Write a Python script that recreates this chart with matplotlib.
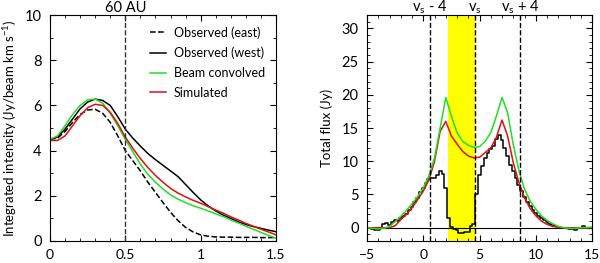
import numpy as np
import matplotlib
matplotlib.use('Agg')
import matplotlib.pyplot as plt
from matplotlib.ticker import MultipleLocator

# left panel: radial profiles of integrated intensity
radius = np.arange(0, 1.5001, 0.05)
obs_east = [4.5, 4.55, 4.85, 5.25, 5.6, 5.8, 5.83, 5.65, 5.25, 4.65, 4.0,
            3.55, 3.1, 2.6, 2.15, 1.7, 1.27, 0.9, 0.6, 0.4, 0.27,
            0.21, 0.18, 0.17, 0.17, 0.16, 0.16, 0.16, 0.15, 0.15, 0.15]
obs_west = [4.5, 4.6, 4.95, 5.4, 5.85, 6.15, 6.28, 6.22, 6.0, 5.5, 4.95,
            4.55, 4.2, 3.87, 3.6, 3.35, 3.1, 2.85, 2.5, 2.15, 1.82,
            1.55, 1.33, 1.15, 1.0, 0.85, 0.73, 0.64, 0.56, 0.48, 0.41]
beam_conv = [4.5, 4.65, 5.1, 5.6, 6.0, 6.25, 6.28, 6.1, 5.65, 5.1, 4.5,
             3.95, 3.4, 2.95, 2.6, 2.3, 2.04, 1.85, 1.7, 1.56, 1.45,
             1.33, 1.2, 1.08, 0.93, 0.8, 0.65, 0.52, 0.38, 0.25, 0.12]
simulated = [4.45, 4.45, 4.65, 5.1, 5.55, 5.9, 6.05, 6.0, 5.7, 5.2, 4.6,
             4.1, 3.65, 3.25, 2.9, 2.6, 2.33, 2.12, 1.95, 1.8, 1.67,
             1.52, 1.37, 1.23, 1.07, 0.93, 0.78, 0.65, 0.52, 0.4, 0.27]

# right panel: spectra (observed channels every 0.25 km/s)
vel_obs = np.arange(-5, 15.001, 0.25)
flux_obs = [0.0, 0.0, -0.2, -0.3, -0.4, 0.0, 0.6, 0.7, 0.4, 0.8,
            1.1, 1.0, 1.4, 1.8, 2.1, 2.6, 3.1, 3.8, 4.5, 5.3,
            6.0, 6.8, 7.4, 7.5, 7.5, 8.0, 8.5, 8.1, 6.0, 1.5,
            0.1, -0.2, -0.4, -0.8, -0.8, -0.7, -0.7, 0.3, 0.5, 5.0,
            8.0, 9.3, 10.5, 11.3, 11.8, 12.3, 13.3, 14.0, 13.2, 12.0,
            10.8, 9.5, 8.5, 7.5, 6.5, 5.5, 4.6, 3.8, 3.2, 2.6,
            2.2, 1.8, 1.5, 1.1, 0.9, 0.6, 0.4, 0.3, 0.1, 0.0,
            -0.1, 0.0, -0.2, -0.2, -0.4, -0.1, 0.0, 0.2, 0.0, 0.0, 0.0]
vel_mod = np.arange(-5, 15.001, 0.5)
flux_conv = [0.0, -0.1, -0.2, -0.1, 0.2, 0.9, 1.7, 2.6, 3.6, 4.7,
             6.0, 7.8, 10.5, 15.0, 19.6, 16.8, 14.3, 13.0, 12.4, 12.1,
             12.2, 13.0, 14.3, 16.8, 19.6, 17.3, 12.5, 8.6, 5.8, 4.0,
             2.8, 1.8, 1.1, 0.6, 0.2, 0.0, -0.1, -0.1, 0.0, 0.0, 0.1]
flux_sim = [0.0, 0.0, 0.0, 0.0, 0.0, 0.3, 1.2, 2.0, 3.0, 4.2,
            5.5, 7.2, 10.0, 14.5, 16.0, 13.8, 12.6, 11.5, 10.8, 10.5,
            10.6, 11.3, 12.0, 13.6, 16.2, 13.8, 9.8, 6.8, 4.5, 2.9,
            1.8, 1.0, 0.5, 0.2, 0.05, 0.0, 0.0, 0.0, 0.0, 0.0, 0.0]

v_sys = 4.6
absorb_start = 2.2

green = '#22dd22'
red = '#dd1111'

plt.rcParams['font.family'] = ['Lato', 'DejaVu Sans']
plt.rcParams['mathtext.fontset'] = 'custom'
plt.rcParams['mathtext.rm'] = 'Lato'
plt.rcParams['mathtext.it'] = 'Lato:italic'
plt.rcParams['font.size'] = 10.5
plt.rcParams['xtick.labelsize'] = 10
plt.rcParams['xtick.direction'] = 'in'
plt.rcParams['ytick.direction'] = 'in'
plt.rcParams['xtick.top'] = True
plt.rcParams['ytick.right'] = True
plt.rcParams['xtick.major.size'] = 4
plt.rcParams['ytick.major.size'] = 4
plt.rcParams['xtick.minor.size'] = 2
plt.rcParams['ytick.minor.size'] = 2
plt.rcParams['xtick.major.pad'] = 6
plt.rcParams['ytick.major.pad'] = 6

fig = plt.figure(figsize=(6.0, 2.63), dpi=100)
ax1 = fig.add_axes([0.0833, 0.0837, 0.3767, 0.859])
ax2 = fig.add_axes([0.6117, 0.0837, 0.3750, 0.859])

# left panel
ax1.plot(radius, obs_east, 'k--', lw=1.1, label='Observed (east)')
ax1.plot(radius, obs_west, 'k-', lw=1.1, label='Observed (west)')
ax1.plot(radius, beam_conv, color=green, lw=1.1, label='Beam convolved')
ax1.plot(radius, simulated, color=red, lw=1.1, label='Simulated')
ax1.axvline(0.5, color='#333333', ls='--', lw=1.0)
ax1.text(0.5, 10.15, '60 AU', ha='center', va='baseline')
ax1.set_xlim(0, 1.5)
ax1.set_ylim(0, 10)
ax1.xaxis.set_major_locator(MultipleLocator(0.5))
ax1.xaxis.set_minor_locator(MultipleLocator(0.1))
ax1.yaxis.set_major_locator(MultipleLocator(2))
ax1.yaxis.set_minor_locator(MultipleLocator(1))
ax1.set_xticks([0, 0.5, 1, 1.5], ['0', '0.5', '1', '1.5'])
ax1.set_ylabel(r'Integrated intensity (Jy/beam km s$^{-1}$)', fontsize=9.5,
               labelpad=4)
ax1.legend(loc='upper right', frameon=False, fontsize=9, handlelength=1.3,
           handletextpad=0.6, labelspacing=0.62, bbox_to_anchor=(1.0, 1.0))

# right panel
ax2.axvspan(absorb_start, v_sys, color='yellow', lw=0)
ax2.axhline(0, color='k', lw=0.8)
ax2.step(vel_obs, flux_obs, where='mid', color='k', lw=1.1)
ax2.plot(vel_mod, flux_sim, color=red, lw=1.1)
ax2.plot(vel_mod, flux_conv, color=green, lw=1.1)
for v, lab in [(v_sys - 4, r'v$_{\rm s}$ - 4'), (v_sys, r'v$_{\rm s}$'),
               (v_sys + 4, r'v$_{\rm s}$ + 4')]:
    ax2.axvline(v, color='k', ls='--', lw=1.0)
    ax2.text(v, 32.45, lab, ha='center', va='baseline')
ax2.set_xlim(-5, 15)
ax2.set_ylim(-2, 32)
ax2.xaxis.set_major_locator(MultipleLocator(5))
ax2.xaxis.set_minor_locator(MultipleLocator(1))
ax2.yaxis.set_major_locator(MultipleLocator(5))
ax2.yaxis.set_minor_locator(MultipleLocator(1))
ax2.set_xticks([-5, 0, 5, 10, 15], ['\u22125', '0', '5', '10', '15'])
ax2.set_ylabel('Total flux (Jy)', fontsize=9.5, labelpad=6)

fig.savefig('out.png', dpi=100)
